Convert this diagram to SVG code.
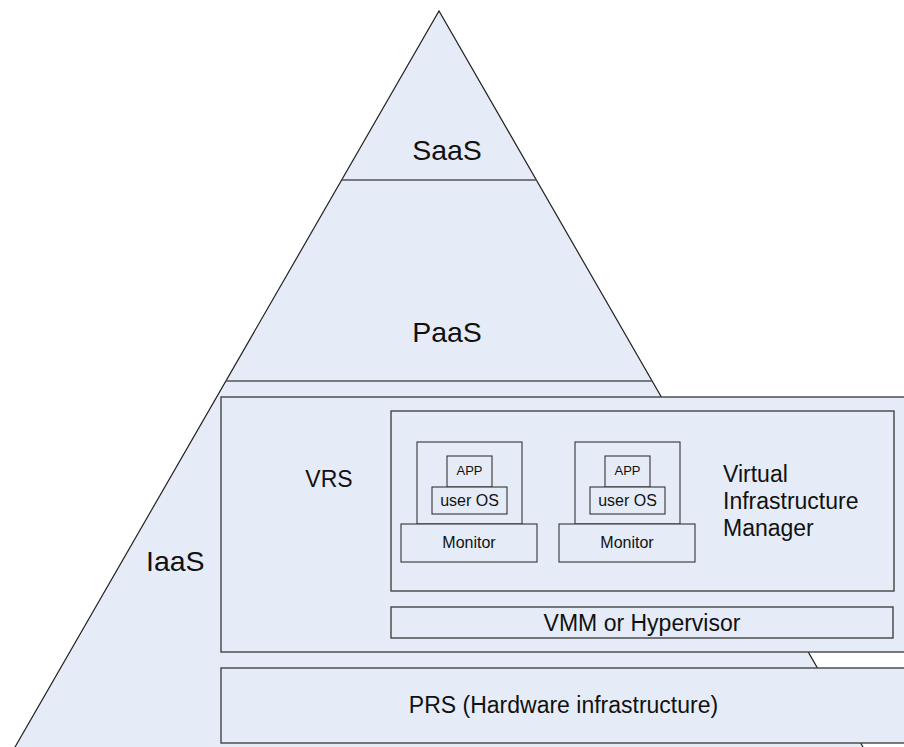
<svg xmlns="http://www.w3.org/2000/svg" width="904" height="747" viewBox="0 0 904 747">
<style>
text{font-family:"Liberation Sans",Arial,sans-serif;fill:#111;}
.box{fill:#e6ecf7;stroke:#444;stroke-width:1.4;}
.sm{fill:#e6ecf7;stroke:#333;stroke-width:1.1;}
.sep{stroke:#555;stroke-width:1.6;fill:none;}
.edge{stroke:#222;stroke-width:1.2;fill:none;}
</style>
<rect x="0" y="0" width="904" height="747" fill="#ffffff"/>
<g id="pyramid">
<polygon points="439,11 871.6,762 6.4,762" fill="#e6ecf7" stroke="none"/>
<polyline class="edge" points="6.4,762 439,11 871.6,762"/>
<line class="sep" x1="342" y1="180" x2="537" y2="180"/>
<line class="sep" x1="226" y1="381" x2="652" y2="381"/>
</g>
<g id="saas"><text x="447" y="160" font-size="28.5" text-anchor="middle">SaaS</text></g>
<g id="paas"><text x="447" y="342" font-size="28.5" text-anchor="middle">PaaS</text></g>
<g id="iaas"><text x="146" y="571" font-size="28.5">IaaS</text></g>
<g id="vrs">
<rect class="box" x="221" y="397" width="685" height="255"/>
<text x="329" y="487" font-size="23" text-anchor="middle">VRS</text>
</g>
<g id="vim">
<rect class="box" x="391" y="411" width="503" height="180"/>
<text x="723" font-size="23"><tspan x="723" y="482">Virtual</tspan><tspan x="723" y="509">Infrastructure</tspan><tspan x="723" y="536">Manager</tspan></text>
</g>
<g id="vm1">
<rect class="sm" x="417" y="442" width="105" height="82"/>
<rect class="sm" x="447" y="456" width="45" height="31"/>
<text x="469.5" y="475" font-size="13" text-anchor="middle">APP</text>
<rect class="sm" x="432" y="487" width="75" height="27"/>
<text x="469.5" y="506" font-size="16" text-anchor="middle">user OS</text>
<rect class="sm" x="401" y="524" width="136" height="38"/>
<text x="469" y="548" font-size="16" text-anchor="middle">Monitor</text>
</g>
<g id="vm2">
<rect class="sm" x="575" y="442" width="105" height="82"/>
<rect class="sm" x="605" y="456" width="45" height="31"/>
<text x="627.5" y="475" font-size="13" text-anchor="middle">APP</text>
<rect class="sm" x="590" y="487" width="75" height="27"/>
<text x="627.5" y="506" font-size="16" text-anchor="middle">user OS</text>
<rect class="sm" x="559" y="524" width="136" height="38"/>
<text x="627" y="548" font-size="16" text-anchor="middle">Monitor</text>
</g>
<g id="vmm">
<rect class="box" x="391" y="607" width="502" height="31"/>
<text x="642" y="631" font-size="23" text-anchor="middle">VMM or Hypervisor</text>
</g>
<g id="prs">
<rect class="box" x="221" y="668" width="685" height="75"/>
<text x="563.5" y="713" font-size="23" text-anchor="middle">PRS (Hardware infrastructure)</text>
</g>
</svg>
